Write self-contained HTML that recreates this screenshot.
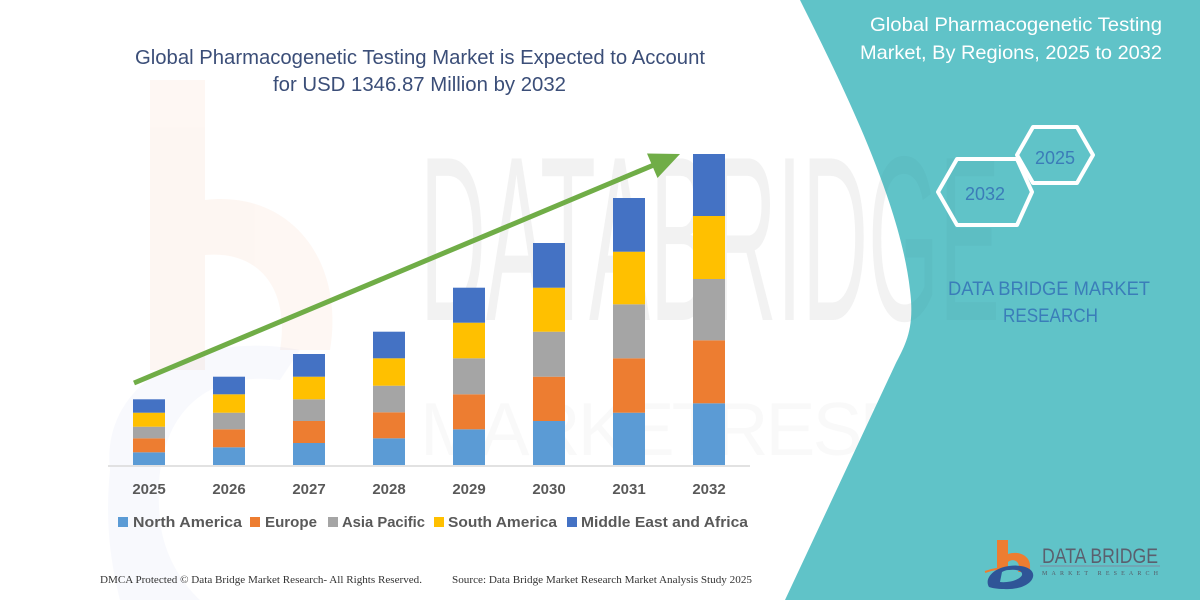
<!DOCTYPE html>
<html>
<head>
<meta charset="utf-8">
<style>
html,body{margin:0;padding:0;background:#fff;}
svg{display:block;}
</style>
</head>
<body>
<svg width="1200" height="600" viewBox="0 0 1200 600" xmlns="http://www.w3.org/2000/svg">
  <rect width="1200" height="600" fill="#ffffff"/>

  <!-- faint watermark: orange b on left -->
  <g opacity="0.06" fill="#ed7d31">
    <rect x="150" y="80" width="55" height="290"/>
    <path d="M205 200 C 290 190, 345 260, 330 350 L 280 350 C 290 290, 260 250, 205 255 Z"/>
  </g>
  <!-- faint blue-gray swoosh bottom-left -->
  <path d="M110 470 C 100 380, 200 330, 300 350 L 280 380 C 200 370, 150 420, 160 520 C 165 570, 200 600, 200 600 L 120 600 C 110 560, 105 520, 110 470 Z" fill="#4472c4" opacity="0.04"/>

  <!-- faint watermark text -->
  <text x="420" y="320" font-family="Liberation Sans, sans-serif" font-size="235" fill="#000" opacity="0.022" textLength="580" lengthAdjust="spacingAndGlyphs">DATABRIDGE</text>
  <text x="420" y="455" font-family="Liberation Sans, sans-serif" font-size="75" fill="#000" opacity="0.018" textLength="710" lengthAdjust="spacing" letter-spacing="20">MARKETRESEARCH</text>

  <!-- teal panel -->
  <path d="M800 0 L1200 0 L1200 600 L785 600 L895 365 C 905 345, 915 330, 910 290 C 900 200, 840 80, 800 0 Z" fill="#60c3c8"/>
  <!-- watermark over teal -->
  <text x="420" y="320" font-family="Liberation Sans, sans-serif" font-size="235" fill="#000" opacity="0.02" textLength="580" lengthAdjust="spacingAndGlyphs">DATABRIDGE</text>

  <!-- left title -->
  <g font-family="Liberation Sans, sans-serif" font-size="20" fill="#3b4e78">
    <text x="135" y="64" textLength="570" lengthAdjust="spacingAndGlyphs">Global Pharmacogenetic Testing Market is Expected to Account</text>
    <text x="273" y="91" textLength="293" lengthAdjust="spacingAndGlyphs">for USD 1346.87 Million by 2032</text>
  </g>

  <!-- right header -->
  <g font-family="Liberation Sans, sans-serif" font-size="19.5" fill="#ffffff">
    <text x="870" y="31" textLength="292" lengthAdjust="spacingAndGlyphs">Global Pharmacogenetic Testing</text>
    <text x="860" y="59" textLength="302" lengthAdjust="spacingAndGlyphs">Market, By Regions, 2025 to 2032</text>
  </g>

  <!-- hexagons -->
  <g fill="none" stroke="#ffffff" stroke-width="4" stroke-linejoin="round">
    <polygon points="1017,155 1033,127 1077,127 1093,155 1077,183 1033,183"/>
    <polygon points="938,192 957,159 1017,159 1032,192 1017,225 957,225"/>
  </g>
  <g font-family="Liberation Sans, sans-serif" font-size="18" fill="#3b7cb8" text-anchor="middle">
    <text x="1055" y="164">2025</text>
    <text x="985" y="200">2032</text>
  </g>

  <!-- DBMR text -->
  <g font-family="Liberation Sans, sans-serif" font-size="19" fill="#3a7db9">
    <text x="948" y="295" textLength="202" lengthAdjust="spacingAndGlyphs">DATA BRIDGE MARKET</text>
    <text x="1003" y="322" textLength="95" lengthAdjust="spacingAndGlyphs">RESEARCH</text>
  </g>

  <!-- axis -->
  <line x1="108" y1="466" x2="750" y2="466" stroke="#d9d9d9" stroke-width="1.5"/>

  <!-- bars -->
  <g>
    <rect x="133" y="452.3" width="32" height="12.7" fill="#5b9bd5"/>
    <rect x="133" y="438.3" width="32" height="14" fill="#ed7d31"/>
    <rect x="133" y="426.7" width="32" height="11.6" fill="#a5a5a5"/>
    <rect x="133" y="412.7" width="32" height="14" fill="#ffc000"/>
    <rect x="133" y="399.3" width="32" height="13.4" fill="#4472c4"/>

    <rect x="213" y="447.3" width="32" height="17.7" fill="#5b9bd5"/>
    <rect x="213" y="429.3" width="32" height="18" fill="#ed7d31"/>
    <rect x="213" y="412.7" width="32" height="16.6" fill="#a5a5a5"/>
    <rect x="213" y="394.3" width="32" height="18.4" fill="#ffc000"/>
    <rect x="213" y="376.7" width="32" height="17.6" fill="#4472c4"/>

    <rect x="293" y="443" width="32" height="22" fill="#5b9bd5"/>
    <rect x="293" y="421" width="32" height="22" fill="#ed7d31"/>
    <rect x="293" y="399.3" width="32" height="21.7" fill="#a5a5a5"/>
    <rect x="293" y="376.7" width="32" height="22.6" fill="#ffc000"/>
    <rect x="293" y="354" width="32" height="22.7" fill="#4472c4"/>

    <rect x="373" y="438.3" width="32" height="26.7" fill="#5b9bd5"/>
    <rect x="373" y="412.3" width="32" height="26" fill="#ed7d31"/>
    <rect x="373" y="385.7" width="32" height="26.6" fill="#a5a5a5"/>
    <rect x="373" y="358.3" width="32" height="27.4" fill="#ffc000"/>
    <rect x="373" y="331.7" width="32" height="26.6" fill="#4472c4"/>

    <rect x="453" y="429.3" width="32" height="35.7" fill="#5b9bd5"/>
    <rect x="453" y="394.3" width="32" height="35" fill="#ed7d31"/>
    <rect x="453" y="358.3" width="32" height="36" fill="#a5a5a5"/>
    <rect x="453" y="322.7" width="32" height="35.6" fill="#ffc000"/>
    <rect x="453" y="287.7" width="32" height="35" fill="#4472c4"/>

    <rect x="533" y="421" width="32" height="44" fill="#5b9bd5"/>
    <rect x="533" y="376.7" width="32" height="44.3" fill="#ed7d31"/>
    <rect x="533" y="331.7" width="32" height="45" fill="#a5a5a5"/>
    <rect x="533" y="287.7" width="32" height="44" fill="#ffc000"/>
    <rect x="533" y="243" width="32" height="44.7" fill="#4472c4"/>

    <rect x="613" y="412.7" width="32" height="52.3" fill="#5b9bd5"/>
    <rect x="613" y="358.3" width="32" height="54.4" fill="#ed7d31"/>
    <rect x="613" y="304.3" width="32" height="54" fill="#a5a5a5"/>
    <rect x="613" y="251.7" width="32" height="52.6" fill="#ffc000"/>
    <rect x="613" y="198" width="32" height="53.7" fill="#4472c4"/>

    <rect x="693" y="403.3" width="32" height="61.7" fill="#5b9bd5"/>
    <rect x="693" y="340.3" width="32" height="63" fill="#ed7d31"/>
    <rect x="693" y="279" width="32" height="61.3" fill="#a5a5a5"/>
    <rect x="693" y="216" width="32" height="63" fill="#ffc000"/>
    <rect x="693" y="154" width="32" height="62" fill="#4472c4"/>
  </g>

  <!-- arrow -->
  <line x1="134" y1="383" x2="655" y2="164.5" stroke="#70ad47" stroke-width="5"/>
  <polygon points="680,154 647,153.5 657.5,178" fill="#70ad47"/>

  <!-- year labels -->
  <g font-family="Liberation Sans, sans-serif" font-size="15" font-weight="bold" fill="#595959" text-anchor="middle">
    <text x="149" y="494">2025</text>
    <text x="229" y="494">2026</text>
    <text x="309" y="494">2027</text>
    <text x="389" y="494">2028</text>
    <text x="469" y="494">2029</text>
    <text x="549" y="494">2030</text>
    <text x="629" y="494">2031</text>
    <text x="709" y="494">2032</text>
  </g>

  <!-- legend -->
  <g>
    <rect x="118" y="517" width="10" height="10" fill="#5b9bd5"/>
    <rect x="250" y="517" width="10" height="10" fill="#ed7d31"/>
    <rect x="328" y="517" width="10" height="10" fill="#a5a5a5"/>
    <rect x="434" y="517" width="10" height="10" fill="#ffc000"/>
    <rect x="567" y="517" width="10" height="10" fill="#4472c4"/>
  </g>
  <g font-family="Liberation Sans, sans-serif" font-size="15" font-weight="bold" fill="#595959">
    <text x="133" y="527" textLength="109" lengthAdjust="spacingAndGlyphs">North America</text>
    <text x="265" y="527" textLength="52" lengthAdjust="spacingAndGlyphs">Europe</text>
    <text x="342" y="527" textLength="83" lengthAdjust="spacingAndGlyphs">Asia Pacific</text>
    <text x="448" y="527" textLength="109" lengthAdjust="spacingAndGlyphs">South America</text>
    <text x="581" y="527" textLength="167" lengthAdjust="spacingAndGlyphs">Middle East and Africa</text>
  </g>

  <!-- footer -->
  <g font-family="Liberation Serif, serif" font-size="10.5" fill="#333333">
    <text x="100" y="583" textLength="322" lengthAdjust="spacingAndGlyphs">DMCA Protected © Data Bridge Market Research-  All Rights Reserved.</text>
    <text x="452" y="583" textLength="300" lengthAdjust="spacingAndGlyphs">Source: Data Bridge Market Research  Market Analysis Study 2025</text>
  </g>

  <!-- logo -->
  <g>
    <path d="M997 540 h11 v14 c12 -4 23 3 22 13 c0 2 -1 4 -2 5 l-10 0 c1 -2 1 -3 1 -5 c0 -6 -6 -9 -11 -5 v6 h-11 z" fill="#ed7d31"/>
    <path d="M985 572 c15 -5 30 -6 45 -4" stroke="#ed7d31" stroke-width="2" fill="none"/>
    <path d="M989 587 c-5 -8 4 -19 20 -21 c15 -2 26 3 24 11 c-2 8 -15 13 -29 12 c-7 0 -12 -1 -15 -2 z M1000 582 c8 1 20 -2 22 -7 c1 -4 -5 -6 -13 -5 c-3 0 -5 1 -7 2 z" fill="#2f5597" fill-rule="evenodd"/>
    <text x="1042" y="563" font-family="Liberation Sans, sans-serif" font-size="21" fill="#5b5f6e" textLength="116" lengthAdjust="spacingAndGlyphs">DATA BRIDGE</text>
    <line x1="1040" y1="566" x2="1160" y2="566" stroke="#7f8aa0" stroke-width="1"/>
    <text x="1042" y="575" font-family="Liberation Serif, serif" font-size="6" fill="#555a66" textLength="116" lengthAdjust="spacing">MARKET RESEARCH</text>
  </g>
</svg>
</body>
</html>
